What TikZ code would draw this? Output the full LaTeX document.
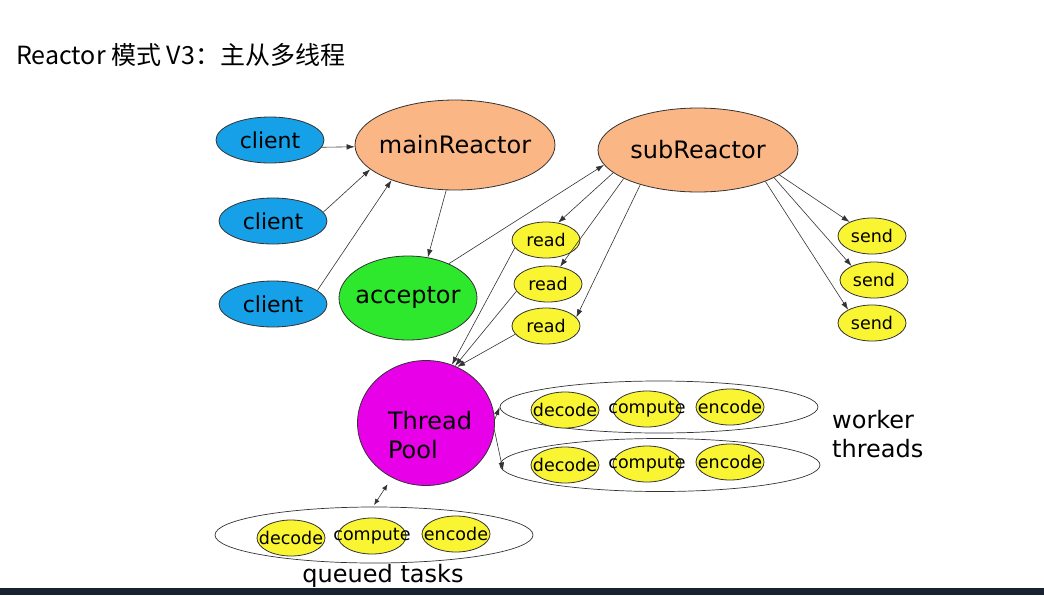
\documentclass[tikz,border=0pt]{standalone}
\usepackage{fontspec}
\setmainfont{DejaVu Sans}
\newfontfamily\cjk{Noto Sans CJK SC}
\usetikzlibrary{arrows.meta,shapes.geometric}

\definecolor{clientblue}{RGB}{22,160,232}
\definecolor{reactorpeach}{RGB}{250,182,132}
\definecolor{acceptgreen}{RGB}{45,232,45}
\definecolor{taskyellow}{RGB}{250,245,50}
\definecolor{poolmagenta}{RGB}{232,0,232}
\definecolor{barnavy}{RGB}{24,34,48}

% text that does not widen its oval
\newcommand{\ztext}[1]{\makebox[0pt]{#1}}

\tikzset{
  oval/.style={ellipse,draw=black!80,line width=0.8pt,inner sep=0pt},
  clientnode/.style={oval,fill=clientblue,minimum width=108pt,minimum height=46pt,font=\fontsize{22}{26}\selectfont},
  reactornode/.style={oval,fill=reactorpeach,minimum width=200pt,font=\fontsize{24}{28}\selectfont},
  taskoval/.style={oval,fill=taskyellow,minimum width=68pt,minimum height=36pt,font=\fontsize{17.5}{20}\selectfont},
  grouprim/.style={oval,line width=0.7pt},
  arr/.style={-{Latex[length=8pt,width=5.5pt]},line width=0.6pt,draw=black!80},
  lbl/.style={inner sep=0pt,align=left,font=\fontsize{24}{29}\selectfont}
}

\begin{document}
\begin{tikzpicture}[x=1pt,y=-1pt]
  \useasboundingbox (0,0) rectangle (1044,595);

  % title
  \node[anchor=west,inner sep=0pt,font=\cjk\fontsize{25}{29}\selectfont] (title) at (16,55) {Reactor 模式 V3：主从多线程};

  % clients
  \node[clientnode] (client1) at (270,140) {\ztext{client}};
  \node[clientnode] (client2) at (273,221) {\ztext{client}};
  \node[clientnode] (client3) at (273,304) {\ztext{client}};

  % reactors and acceptor
  \node[reactornode,minimum height=90pt] (mainreactor) at (455,145) {\ztext{mainReactor}};
  \node[reactornode,minimum height=84pt] (subreactor) at (698,150) {\ztext{subReactor}};
  \node[oval,fill=acceptgreen,minimum width=138pt,minimum height=84pt,font=\fontsize{24}{28}\selectfont] (acceptor) at (408,298) {\ztext{acceptor}};

  % read and send handlers
  \node[taskoval] (read1) at (546,240) {\ztext{read}};
  \node[taskoval] (read2) at (548,284) {\ztext{read}};
  \node[taskoval] (read3) at (546,326) {\ztext{read}};
  \node[taskoval] (send1) at (872,236) {\ztext{send}};
  \node[taskoval] (send2) at (874,280) {\ztext{send}};
  \node[taskoval] (send3) at (872,323) {\ztext{send}};

  % thread pool
  \node[oval,fill=poolmagenta,minimum width=137pt,minimum height=125pt] (pool) at (426,423) {};
  \node[lbl] (pooltext) at (430,435) {Thread\\Pool};

  % worker threads and queued tasks
  \node[grouprim,minimum width=318pt,minimum height=52pt] (worker1) at (659,407) {};
  \node[grouprim,minimum width=320pt,minimum height=53pt] (worker2) at (660,465) {};
  \node[grouprim,minimum width=318pt,minimum height=56pt] (queue) at (374,535) {};

  \node[taskoval] (decode1) at (565,410) {\ztext{decode}};
  \node[taskoval] (compute1) at (647,409) {\ztext{compute}};
  \node[taskoval] (encode1) at (730,407) {\ztext{encode}};
  \node[taskoval] (decode2) at (565,465) {\ztext{decode}};
  \node[taskoval] (compute2) at (647,464) {\ztext{compute}};
  \node[taskoval] (encode2) at (730,462) {\ztext{encode}};
  \node[taskoval] (decode3) at (291,538) {\ztext{decode}};
  \node[taskoval] (compute3) at (372,536) {\ztext{compute}};
  \node[taskoval] (encode3) at (456,534) {\ztext{encode}};

  \node[lbl,anchor=west] (workerlabel) at (832,434) {worker\\threads};
  \node[lbl] (queuelabel) at (383,576) {queued tasks};

  % connections
  \draw[arr] (client1.-8) -- (mainreactor.181);
  \draw[arr] (client2.10) -- (mainreactor.196);
  \draw[arr] (client3.17) -- (mainreactor.209);
  \draw[arr] (mainreactor.259) -- (acceptor.64);
  \draw[arr] (acceptor.40) -- (subreactor.189);
  \draw[arr] (subreactor.195) -- (read1.55);
  \draw[arr] (subreactor.201) -- (read2.55);
  \draw[arr] (subreactor.211) -- (read3.16);
  \draw[arr] (subreactor.343) -- (send1.148);
  \draw[arr] (subreactor.340) -- (send2.148);
  \draw[arr] (subreactor.335) -- (send3.151);
  \draw[arr] (read1.194) -- (pool.66);
  \draw[arr] (read2.193) -- (pool.63);
  \draw[arr] (read3.195) -- (pool.61);
  \draw[arr] (pool.3) -- (worker1.180);
  \draw[arr] (pool.-6) -- (worker2.182);
  \draw[arr,{Latex[length=6pt,width=5pt]}-{Latex[length=6pt,width=5pt]},shorten <=8pt,shorten >=2pt] (pool.238) -- (queue.92);

  % screen bar at the bottom
  \fill[barnavy] (0,588) rectangle (1044,595);
\end{tikzpicture}
\end{document}
